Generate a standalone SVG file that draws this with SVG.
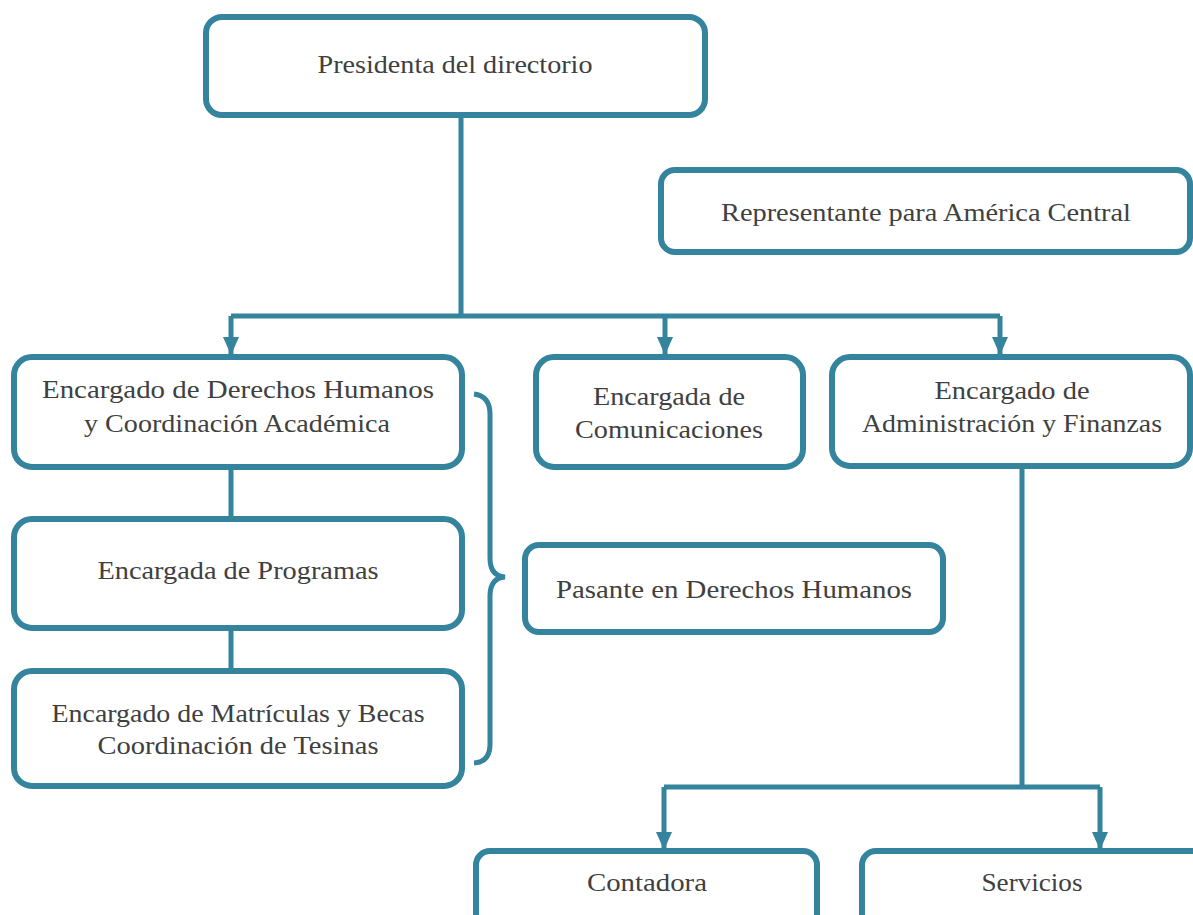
<svg xmlns="http://www.w3.org/2000/svg" width="1193" height="915" viewBox="0 0 1193 915">
<style>
.box{fill:#fff;stroke:#33849c;stroke-width:6}
.ln{fill:none;stroke:#33849c;stroke-width:5}
.t{font-family:"Liberation Serif","Times New Roman",serif;font-size:25px;fill:#404040;text-anchor:middle}
</style>
<defs>
<marker id="arr" markerWidth="18" markerHeight="16" refX="18" refY="8" orient="auto" markerUnits="userSpaceOnUse" viewBox="0 0 18 16">
<path d="M0,0 L18,8 L0,16 Z" fill="#33849c"/>
</marker>
</defs>
<g id="connectors">
<path class="ln" d="M461,116 V316"/>
<path class="ln" d="M231,316 H1000"/>
<path class="ln" d="M231,316 V355" marker-end="url(#arr)"/>
<path class="ln" d="M665,316 V355" marker-end="url(#arr)"/>
<path class="ln" d="M1000,316 V355" marker-end="url(#arr)"/>
<path class="ln" d="M231,468 V518"/>
<path class="ln" d="M231,629 V670"/>
<path class="ln" d="M1022,467 V787"/>
<path class="ln" d="M664,787 H1100"/>
<path class="ln" d="M664,787 V850" marker-end="url(#arr)"/>
<path class="ln" d="M1100,787 V850" marker-end="url(#arr)"/>
<path class="ln" d="M474,394 Q490,396 490,414 V558 Q490,576 505,577 Q490,578 490,596 V744 Q490,762 474,763"/>
</g>
<g id="n-presidenta">
<rect class="box" x="206" y="17" width="499" height="98" rx="16"/>
<text class="t" x="455" y="73" textLength="275" lengthAdjust="spacingAndGlyphs">Presidenta del directorio</text>
</g>
<g id="n-representante">
<rect class="box" x="661" y="170" width="529" height="82" rx="14"/>
<text class="t" x="926" y="221" textLength="410" lengthAdjust="spacingAndGlyphs">Representante para América Central</text>
</g>
<g id="n-derechos">
<rect class="box" x="14" y="357" width="448" height="110" rx="18"/>
<text class="t" x="238" y="398" textLength="392" lengthAdjust="spacingAndGlyphs">Encargado de Derechos Humanos</text>
<text class="t" x="237" y="432" textLength="306" lengthAdjust="spacingAndGlyphs">y Coordinación Académica</text>
</g>
<g id="n-comunicaciones">
<rect class="box" x="536" y="357" width="267" height="110" rx="18"/>
<text class="t" x="669" y="405" textLength="152" lengthAdjust="spacingAndGlyphs">Encargada de</text>
<text class="t" x="669" y="438" textLength="188" lengthAdjust="spacingAndGlyphs">Comunicaciones</text>
</g>
<g id="n-administracion">
<rect class="box" x="832" y="357" width="358" height="109" rx="18"/>
<text class="t" x="1012" y="399" textLength="155" lengthAdjust="spacingAndGlyphs">Encargado de</text>
<text class="t" x="1012" y="432" textLength="300" lengthAdjust="spacingAndGlyphs">Administración y Finanzas</text>
</g>
<g id="n-programas">
<rect class="box" x="14" y="519" width="448" height="109" rx="18"/>
<text class="t" x="238" y="579" textLength="281" lengthAdjust="spacingAndGlyphs">Encargada de Programas</text>
</g>
<g id="n-matriculas">
<rect class="box" x="14" y="671" width="448" height="115" rx="18"/>
<text class="t" x="238" y="722" textLength="373" lengthAdjust="spacingAndGlyphs">Encargado de Matrículas y Becas</text>
<text class="t" x="238" y="754" textLength="281" lengthAdjust="spacingAndGlyphs">Coordinación de Tesinas</text>
</g>
<g id="n-pasante">
<rect class="box" x="525" y="545" width="418" height="87" rx="14"/>
<text class="t" x="734" y="598" textLength="356" lengthAdjust="spacingAndGlyphs">Pasante en Derechos Humanos</text>
</g>
<g id="n-contadora">
<rect class="box" x="476" y="851" width="341" height="80" rx="14"/>
<text class="t" x="647" y="891" textLength="120" lengthAdjust="spacingAndGlyphs">Contadora</text>
</g>
<g id="n-servicios">
<rect class="box" x="862" y="851" width="345" height="80" rx="14"/>
<text class="t" x="1032" y="891" textLength="101" lengthAdjust="spacingAndGlyphs">Servicios</text>
</g>
</svg>
